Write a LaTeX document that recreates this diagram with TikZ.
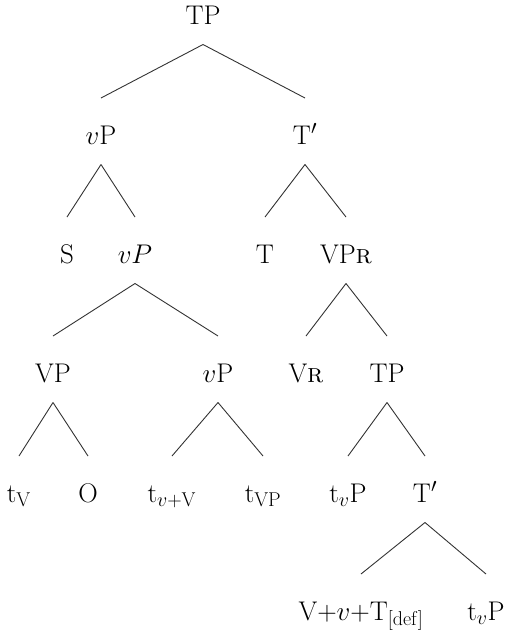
\RequirePackage{fix-cm}
\documentclass[tikz,border=0pt]{standalone}
\DeclareMathSizes{27}{27}{20}{15}
\begin{document}
\begin{tikzpicture}[x=1pt,y=-1pt,
  lbl/.style={anchor=base,inner sep=0pt,font=\fontsize{27}{31}\selectfont},
  br/.style={line width=0.9pt,draw=black!80}]
\useasboundingbox (0,0) rectangle (507,633);
% level 0
\node[lbl] (tp) at (203,24) {TP};
% level 1
\node[lbl] (vp) at (101,144) {$v$P};
\node[lbl] (tbar) at (305,144) {T$'$};
% level 2
\node[lbl] (s) at (67,263) {S};
\node[lbl] (vpi) at (135,263) {$vP$};
\node[lbl] (t) at (265,263) {T};
\node[lbl] (vpr) at (346,263) {VP\textsc{r}};
% level 3
\node[lbl] (vpl) at (53,382) {VP};
\node[lbl] (vpm) at (218,382) {$v$P};
\node[lbl] (vr) at (306,382) {V\textsc{r}};
\node[lbl] (tp2) at (387,382) {TP};
% level 4
\node[lbl] (tv) at (19,502) {t$_{\mathrm{V}}$};
\node[lbl] (o) at (88,502) {O};
\node[lbl] (tvv) at (172,502) {t$_{v+\mathrm{V}}$};
\node[lbl] (tvpp) at (263,502) {t$_{\mathrm{VP}}$};
\node[lbl] (tvp) at (348,502) {t$_v$P};
\node[lbl] (tbar2) at (425,502) {T$'$};
% level 5
\node[lbl] (vvt) at (361,620) {V+$v$+T$_{[\mathrm{def}]}$};
\node[lbl] (tvp2) at (486,620) {t$_v$P};
% branches
\foreach \p/\c in {tp/vp,tp/tbar,vp/s,vp/vpi,tbar/t,tbar/vpr,vpi/vpl,vpi/vpm,vpr/vr,vpr/tp2,vpl/tv,vpl/o,vpm/tvv,vpm/tvpp,tp2/tvp,tp2/tbar2,tbar2/vvt,tbar2/tvp2}
  \draw[br] ([yshift=-20.5pt]\p.base) -- ([yshift=46pt]\c.base);
\end{tikzpicture}
\end{document}
